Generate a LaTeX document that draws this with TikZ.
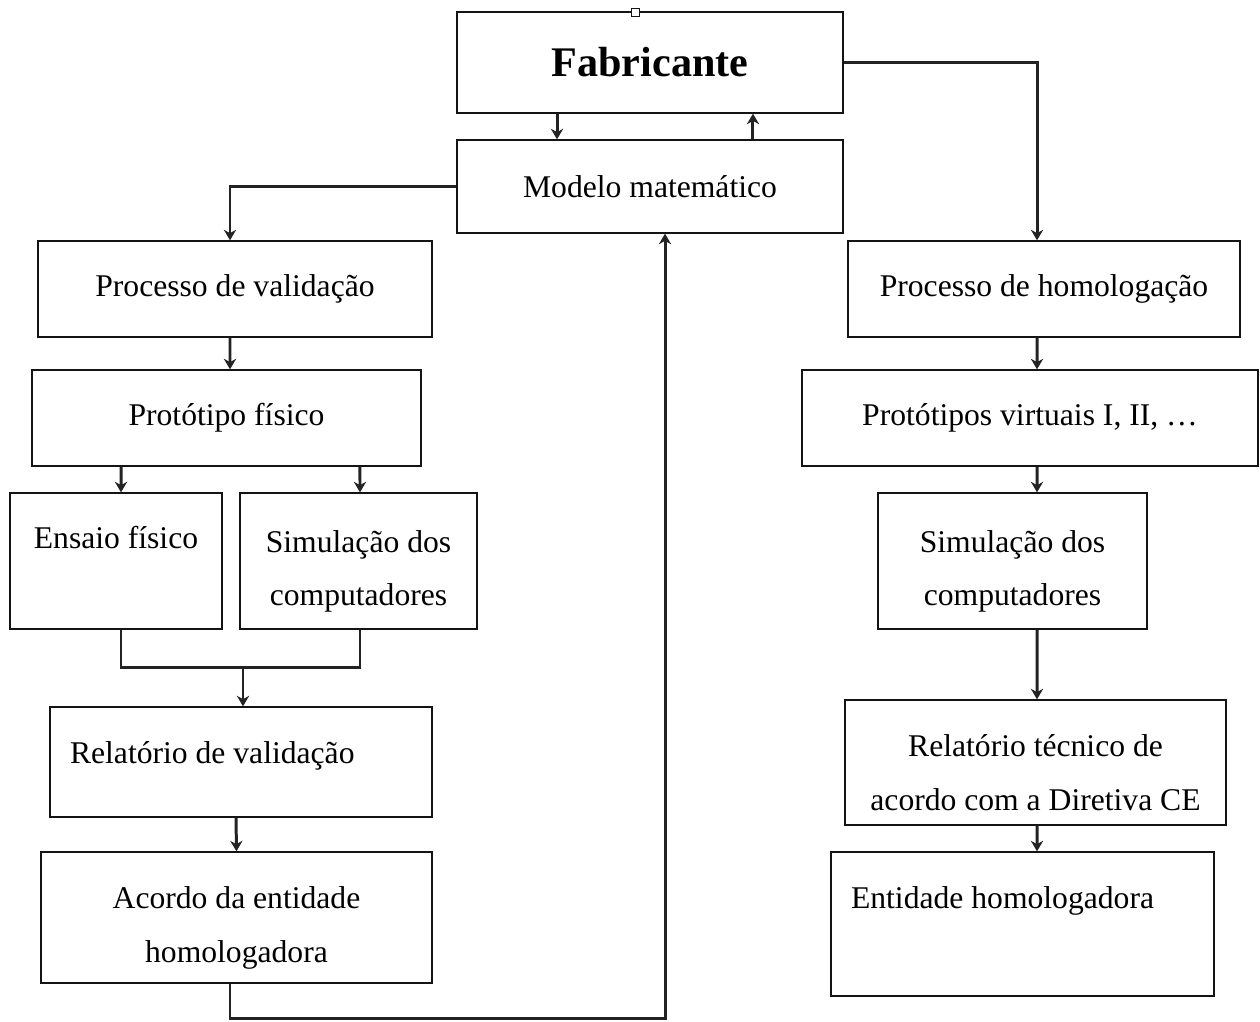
\documentclass[tikz,border=0pt]{standalone}
\usepackage{fontspec}
\setmainfont{Liberation Serif}
\usetikzlibrary{arrows.meta}
\definecolor{boxLine}{RGB}{20,20,20}
\definecolor{connDark}{RGB}{35,35,35}
\newcommand{\padtop}[1]{\rule{0pt}{#1}}

\begin{document}
\begin{tikzpicture}[x=0.02cm, y=-0.02cm, text=black, draw=boxLine,
		conn/.style={draw=connDark, line width=1.7pt, -{Stealth[length=6pt,width=7pt]}},
		wire/.style={draw=connDark, line width=1.7pt}]
		\useasboundingbox (0,0) rectangle (1260,1021);
		\begin{scope}[every node/.style={rectangle,draw=boxLine,line width=0.8pt,inner sep=0pt,align=center,font=\fontsize{18}{30.5}\selectfont}]
			\node (fab) at (650,62.5) [minimum width=7.72cm, minimum height=2.02cm, font=\fontsize{24}{28}\selectfont\bfseries] {Fabricante};
			\node (mod) at (650,186.5) [minimum width=7.72cm, minimum height=1.86cm] {Modelo matemático};
		\end{scope}
		\node (handle) at (635,12) [draw=boxLine, fill=white, line width=0.5pt, inner sep=0pt, minimum size=0.16cm] {};
		% left branch
		\begin{scope}[every node/.style={rectangle,draw=boxLine,line width=0.8pt,inner sep=0pt,align=center,font=\fontsize{18}{30.5}\selectfont}]
			\node (pval) at (235,289) [minimum width=7.88cm, minimum height=1.92cm] {Processo de validação};
			\node (pfis) at (226.5,418) [minimum width=7.78cm, minimum height=1.92cm] {Protótipo físico};
			\node (ens) at (116,561) [minimum width=4.24cm, minimum height=2.72cm, text depth=0.95cm] {Ensaio físico};
			\node (siml) at (358.5,561) [minimum width=4.74cm, minimum height=2.72cm] {\padtop{0.85cm}Simulação dos\\computadores};
			\node (rval) at (241,762) [minimum width=7.64cm, minimum height=2.2cm, align=flush left, text width=6.84cm, inner xsep=0.4cm, text depth=0.38cm] {Relatório de validação};
			\node (acor) at (236.5,917.5) [minimum width=7.82cm, minimum height=2.62cm] {\padtop{0.85cm}Acordo da entidade\\homologadora};
		\end{scope}
		% right branch
		\begin{scope}[every node/.style={rectangle,draw=boxLine,line width=0.8pt,inner sep=0pt,align=center,font=\fontsize{18}{30.5}\selectfont}]
			\node (phom) at (1044,289) [minimum width=7.84cm, minimum height=1.92cm] {Processo de homologação};
			\node (pvir) at (1030,418) [minimum width=9.12cm, minimum height=1.92cm] {Protótipos virtuais I, II, …};
			\node (simr) at (1012.5,561) [minimum width=5.38cm, minimum height=2.72cm] {\padtop{0.85cm}Simulação dos\\computadores};
			\node (rtec) at (1035.5,762.5) [minimum width=7.62cm, minimum height=2.50cm] {\padtop{0.85cm}Relatório técnico de\\acordo com a Diretiva CE};
			\node (ent) at (1022.5,924) [minimum width=7.66cm, minimum height=2.88cm, align=flush left, text width=6.86cm, inner xsep=0.4cm] {Entidade homologadora\\ \mbox{}};
		\end{scope}

		% connectors
		\draw [conn] ([xshift=-1.86cm]fab.south) -- ([xshift=-1.86cm]mod.north);
		\draw [conn] ([xshift=2.06cm]mod.north) -- ([xshift=2.06cm]fab.south);
		\draw [conn] (mod.west) -| ([xshift=-0.1cm]pval.north);
		\draw [conn] (fab.east) -| ([xshift=-0.14cm]phom.north);

		\draw [conn] ([xshift=-0.1cm]pval.south) -- ([xshift=0.07cm]pfis.north);
		\draw [conn] ([xshift=-2.11cm]pfis.south) -- ([xshift=0.1cm]ens.north);
		\draw [conn] ([xshift=2.67cm]pfis.south) -- ([xshift=0.03cm]siml.north);
		\coordinate (join) at ([xshift=0.04cm,yshift=0.78cm]rval.north);
		\draw [wire] ([xshift=0.1cm]ens.south) |- (join) -| ([xshift=0.03cm]siml.south);
		\draw [conn] (join) -- ([xshift=0.04cm]rval.north);
		\draw [conn] ([xshift=-0.1cm]rval.south) -- (acor.north);
		\draw [conn] ([xshift=-0.13cm]acor.south) -- ++(0,35) -| ([xshift=0.3cm]mod.south);

		\draw [conn] ([xshift=-0.14cm]phom.south) -- ([xshift=0.14cm]pvir.north);
		\draw [conn] ([xshift=0.14cm]pvir.south) -- ([xshift=0.49cm]simr.north);
		\draw [conn] ([xshift=0.49cm]simr.south) -- ([xshift=0.03cm]rtec.north);
		\draw [conn] ([xshift=0.03cm]rtec.south) -- ([xshift=0.29cm]ent.north);
	\end{tikzpicture}
\end{document}
